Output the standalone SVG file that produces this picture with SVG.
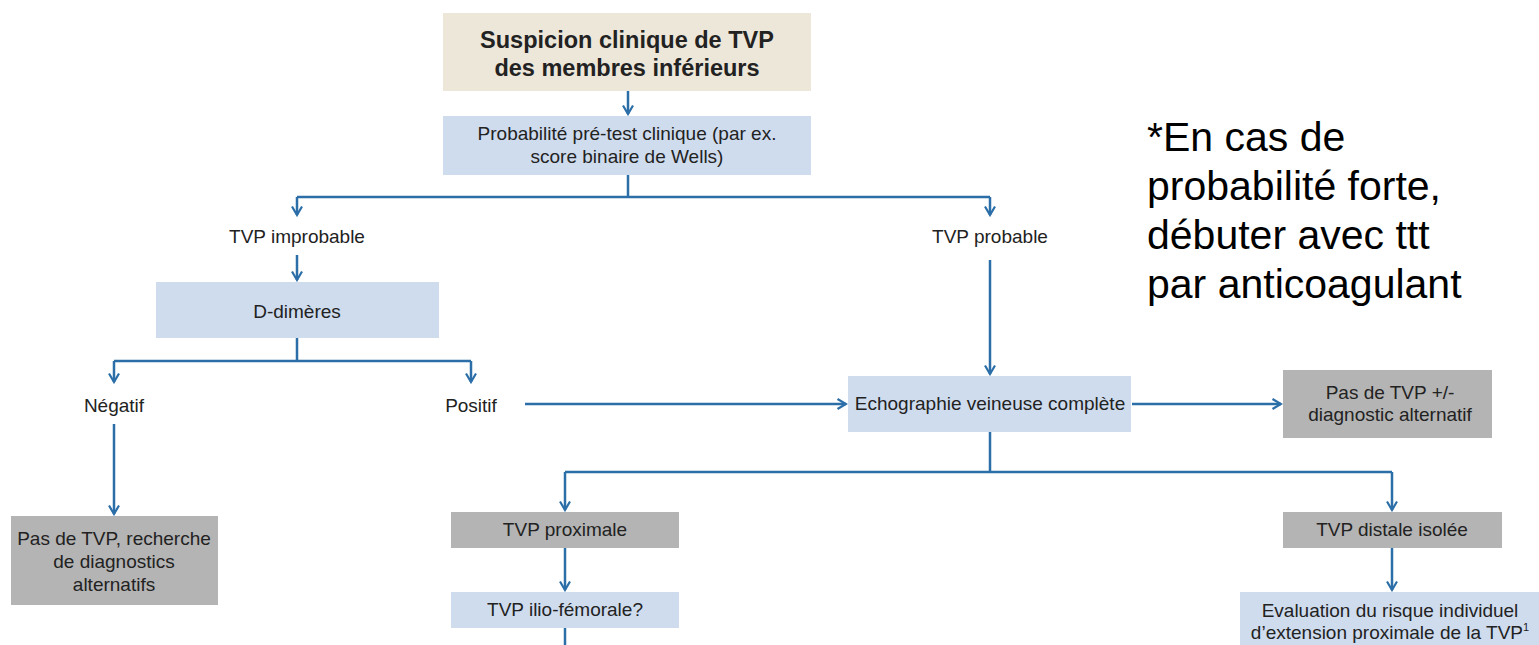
<svg xmlns="http://www.w3.org/2000/svg" width="1539" height="645" viewBox="0 0 1539 645">
<style>
.bg{fill:#ffffff}
.tan{fill:#ede7da}
.blue{fill:#cfdcee}
.gray{fill:#b4b4b4}
.t{font-family:"Liberation Sans",Arial,sans-serif;font-size:19px;fill:#222;text-anchor:middle}
.ts{font-family:"Liberation Sans",Arial,sans-serif;font-size:19px;fill:#222;text-anchor:middle}
.tb{font-family:"Liberation Sans",Arial,sans-serif;font-size:23.5px;font-weight:bold;fill:#222;text-anchor:middle}
.note{font-family:"Liberation Sans",Arial,sans-serif;font-size:41px;fill:#000}
.c{fill:none;stroke:#2b6ea8;stroke-width:2.5}
</style>
<defs>
<marker id="arr" viewBox="0 0 12 12" refX="10.5" refY="6" markerWidth="12" markerHeight="12" markerUnits="userSpaceOnUse" orient="auto">
<path d="M2,1 L10.5,6 L2,11" fill="none" stroke="#2b6ea8" stroke-width="2.2"/>
</marker>
</defs>
<rect class="bg" x="0" y="0" width="1539" height="645"/>

<g id="connectors">
<path class="c" d="M628,91 V114" marker-end="url(#arr)"/>
<path class="c" d="M628,175 V197 M297,197 H990"/>
<path class="c" d="M297,197 V215" marker-end="url(#arr)"/>
<path class="c" d="M990,197 V215" marker-end="url(#arr)"/>
<path class="c" d="M297,255 V280" marker-end="url(#arr)"/>
<path class="c" d="M297,338 V361 M114,361 H471"/>
<path class="c" d="M114,361 V382" marker-end="url(#arr)"/>
<path class="c" d="M471,361 V382" marker-end="url(#arr)"/>
<path class="c" d="M114,424 V514" marker-end="url(#arr)"/>
<path class="c" d="M525,404 H846" marker-end="url(#arr)"/>
<path class="c" d="M990,260 V374" marker-end="url(#arr)"/>
<path class="c" d="M1132,404 H1281" marker-end="url(#arr)"/>
<path class="c" d="M990,432 V472 M565,472 H1392"/>
<path class="c" d="M565,472 V510" marker-end="url(#arr)"/>
<path class="c" d="M1392,472 V510" marker-end="url(#arr)"/>
<path class="c" d="M565,548 V590" marker-end="url(#arr)"/>
<path class="c" d="M1392,548 V590" marker-end="url(#arr)"/>
<path class="c" d="M565,628 V645"/>
</g>

<g id="n-suspicion">
<rect class="tan" x="443" y="13" width="368" height="78"/>
<text class="tb" x="627" y="48">Suspicion clinique de TVP</text>
<text class="tb" x="627" y="76">des membres inférieurs</text>
</g>

<g id="n-probabilite">
<rect class="blue" x="443" y="116" width="368" height="59"/>
<text class="ts" x="627" y="140">Probabilité pré-test clinique (par ex.</text>
<text class="ts" x="627" y="163">score binaire de Wells)</text>
</g>

<g id="n-improbable">
<text class="t" x="297" y="243">TVP improbable</text>
</g>

<g id="n-probable">
<text class="t" x="990" y="243">TVP probable</text>
</g>

<g id="n-ddimeres">
<rect class="blue" x="156" y="282" width="283" height="56"/>
<text class="t" x="297" y="318">D-dimères</text>
</g>

<g id="n-negatif">
<text class="t" x="114" y="412">Négatif</text>
</g>

<g id="n-positif">
<text class="t" x="471" y="412">Positif</text>
</g>

<g id="n-pasdetvp">
<rect class="gray" x="11" y="516" width="207" height="89"/>
<text class="t" x="114" y="545">Pas de TVP, recherche</text>
<text class="t" x="114" y="568">de diagnostics</text>
<text class="t" x="114" y="591">alternatifs</text>
</g>

<g id="n-echo">
<rect class="blue" x="848" y="376" width="283" height="56"/>
<text class="t" x="990" y="410">Echographie veineuse complète</text>
</g>

<g id="n-pasdetvp2">
<rect class="gray" x="1283" y="370" width="209" height="68"/>
<text class="t" x="1390" y="399">Pas de TVP +/-</text>
<text class="t" x="1390" y="421">diagnostic alternatif</text>
</g>

<g id="n-proximale">
<rect class="gray" x="451" y="512" width="228" height="36"/>
<text class="t" x="565" y="536">TVP proximale</text>
</g>

<g id="n-ilio">
<rect class="blue" x="451" y="592" width="228" height="36"/>
<text class="t" x="565" y="616">TVP ilio-fémorale?</text>
</g>

<g id="n-distale">
<rect class="gray" x="1283" y="512" width="219" height="36"/>
<text class="t" x="1392" y="536">TVP distale isolée</text>
</g>

<g id="n-evaluation">
<rect class="blue" x="1240" y="592" width="299" height="60"/>
<text class="ts" x="1390" y="617">Evaluation du risque individuel</text>
<text class="ts" x="1390" y="639">d’extension proximale de la TVP<tspan font-size="11" dy="-8">1</tspan></text>
</g>

<g id="note">
<text class="note" x="1147" y="151">*En cas de</text>
<text class="note" x="1147" y="200">probabilité forte,</text>
<text class="note" x="1147" y="249">débuter avec ttt</text>
<text class="note" x="1147" y="298">par anticoagulant</text>
</g>
</svg>
